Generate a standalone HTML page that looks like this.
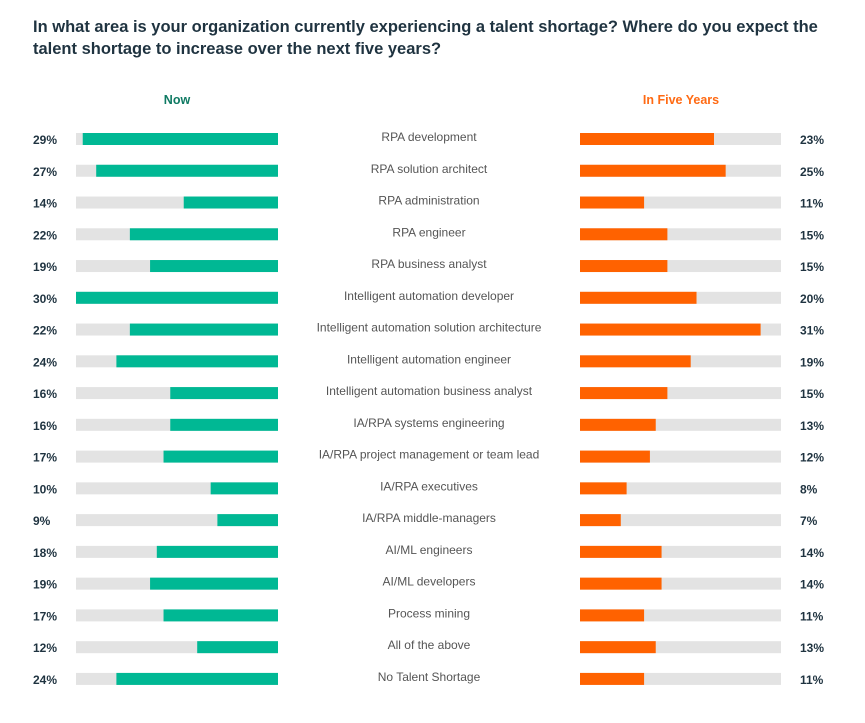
<!DOCTYPE html>
<html><head><meta charset="utf-8"><style>
body{margin:0;background:#fff;width:865px;height:718px;overflow:hidden;font-family:"Liberation Sans",sans-serif;}
</style></head><body>
<svg width="865" height="718" id="chart">
<text x="33" y="32" font-size="16.5" font-weight="bold" fill="#1f3340">In what area is your organization currently experiencing a talent shortage? Where do you expect the</text>
<text x="33" y="54" font-size="16.5" font-weight="bold" fill="#1f3340">talent shortage to increase over the next five years?</text>
<text x="177" y="104" font-size="12.5" font-weight="bold" fill="#0f7a63" text-anchor="middle">Now</text>
<text x="681" y="104" font-size="12.5" font-weight="bold" fill="#ff6a13" text-anchor="middle">In Five Years</text>
</svg>
<script>
const categories=["RPA development","RPA solution architect","RPA administration","RPA engineer","RPA business analyst","Intelligent automation developer","Intelligent automation solution architecture","Intelligent automation engineer","Intelligent automation business analyst","IA/RPA systems engineering","IA/RPA project management or team lead","IA/RPA executives","IA/RPA middle-managers","AI/ML engineers","AI/ML developers","Process mining","All of the above","No Talent Shortage"];
const nowValues=[29,27,14,22,19,30,22,24,16,16,17,10,9,18,19,17,12,24];
const fiveYearValues=[23,25,11,15,15,20,31,19,15,13,12,8,7,14,14,11,13,11];
const svg=document.getElementById('chart');
const NS='http://www.w3.org/2000/svg';
const lx0=76,lx1=278,nowMax=30;
const rx0=580,rx1=781,fiveMax=34.5;
const nowScale=v=>v/nowMax*(lx1-lx0);
const fiveScale=v=>v/fiveMax*(rx1-rx0);
const rowY=i=>133+i*31.76;
function mk(tag,attrs){const e=document.createElementNS(NS,tag);for(const k in attrs)e.setAttribute(k,attrs[k]);svg.appendChild(e);return e;}
categories.forEach((c,i)=>{
  const y=rowY(i);
  let e=mk('rect',{x:lx0,y:y,width:lx1-lx0,height:12,fill:'#e3e3e3'});
  
  
  const w=nowScale(nowValues[i]);
  e=mk('rect',{x:lx1-w,y:y,width:w,height:12,fill:'#00b894'});
  
  
  e=mk('rect',{x:rx0,y:y,width:rx1-rx0,height:12,fill:'#e3e3e3'});
  
  
  e=mk('rect',{x:rx0,y:y,width:fiveScale(fiveYearValues[i]),height:12,fill:'#ff6200'});
  
  
  e=mk('text',{x:33,y:y+11,'font-size':12,'font-weight':'bold',fill:'#1f3340'});
  e.textContent=nowValues[i]+'%';
  
  
  e=mk('text',{x:800,y:y+11,'font-size':12,'font-weight':'bold',fill:'#1f3340'});
  e.textContent=fiveYearValues[i]+'%';
  
  
  e=mk('text',{x:429,y:y+8,'font-size':12,fill:'#555','text-anchor':'middle'});
  e.textContent=c;
  
  
});
</script>
</body></html>
